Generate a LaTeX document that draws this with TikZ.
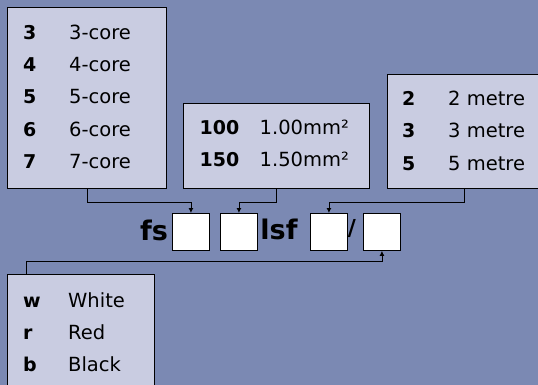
\documentclass[tikz,border=0pt]{standalone}
\usepackage{fontspec}
\setmainfont{DejaVu Sans}
\usetikzlibrary{arrows.meta}
\definecolor{bgc}{HTML}{7B89B3}
\definecolor{boxc}{HTML}{C9CCE1}
\tikzset{
  panel/.style={draw=black, line width=0.9pt, fill=boxc, anchor=north west, inner sep=0pt},
  slot/.style={draw=black, line width=0.9pt, fill=white, anchor=north west, inner sep=0pt, minimum width=37pt, minimum height=37pt},
  key/.style={anchor=base west, inner sep=0pt, font=\fontsize{19}{21}\selectfont\bfseries},
  val/.style={anchor=base west, inner sep=0pt, font=\fontsize{19.5}{21}\selectfont},
  big/.style={anchor=base, inner sep=0pt, font=\fontsize{27}{29}\selectfont\bfseries},
  conn/.style={draw=black, line width=0.9pt, -{Latex[length=5pt,width=5pt]}},
}
\begin{document}
\begin{tikzpicture}[x=1pt,y=-1pt]
\fill[bgc] (0,0) rectangle (538,385);
\useasboundingbox (0,0) rectangle (538,385);
% panels
\node[panel, minimum width=159pt, minimum height=181pt] (cores) at (7,7) {};
\node[panel, minimum width=186pt, minimum height=85pt] (sizes) at (183,103) {};
\node[panel, minimum width=153pt, minimum height=114pt] (lengths) at (387,74) {};
\node[panel, minimum width=147pt, minimum height=130pt] (colours) at (7,274) {};
% slots
\node[slot] (i1) at (172,213) {};
\node[slot] (i2) at (220,213) {};
\node[slot] (i3) at (310,213) {};
\node[slot] (i4) at (363,213) {};
% big labels
\node[big] (fs) at (154,240) {fs};
\node[big] (lsf) at (279,239.5) {lsf};
\node[anchor=base, inner sep=0pt, font=\fontsize{22}{24}\selectfont\bfseries] (sl) at (352,235) {/};
% cores text
\node[key] (c1k) at (23,40) {3}; \node[val] (c1v) at (69,40) {3-core};
\node[key] (c2k) at (23,72) {4}; \node[val] (c2v) at (69,72) {4-core};
\node[key] (c3k) at (23,104) {5}; \node[val] (c3v) at (69,104) {5-core};
\node[key] (c4k) at (23,136) {6}; \node[val] (c4v) at (69,136) {6-core};
\node[key] (c5k) at (23,168) {7}; \node[val] (c5v) at (69,168) {7-core};
% sizes text
\node[key] (s1k) at (199.5,135) {100}; \node[val] (s1v) at (259.5,135) {1.00mm²};
\node[key] (s2k) at (199.5,166.5) {150}; \node[val] (s2v) at (259.5,166.5) {1.50mm²};
% lengths text
\node[key] (l1k) at (402,106) {2}; \node[val] (l1v) at (448,106) {2 metre};
\node[key] (l2k) at (402,138) {3}; \node[val] (l2v) at (448,138) {3 metre};
\node[key] (l3k) at (402,170) {5}; \node[val] (l3v) at (448,170) {5 metre};
% colours text
\node[key] (w1k) at (23,307.5) {w}; \node[val] (w1v) at (68,307.5) {White};
\node[key] (w2k) at (23,339.5) {r}; \node[val] (w2v) at (68,339.5) {Red};
\node[key] (w3k) at (23,371.5) {b}; \node[val] (w3v) at (68,371.5) {Black};
% connectors
\draw[conn] (cores.south) -- ++(0,14) -| (i1.north);
\draw[conn] (sizes.south) -- ++(0,14) -| (i2.north);
\draw[conn] (lengths.south) -- ++(0,14) -| (i3.north);
\draw[conn] ([xshift=19pt]colours.north west) -- ++(0,-13) -| (i4.south);
\end{tikzpicture}
\end{document}
